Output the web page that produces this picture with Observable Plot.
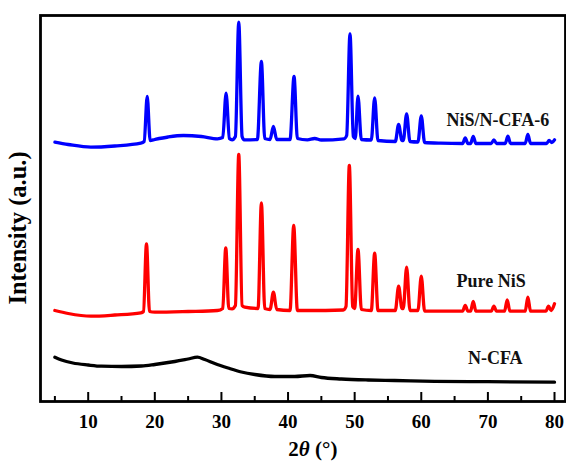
<!DOCTYPE html>
<html><head><meta charset="utf-8">
<script src="https://cdn.jsdelivr.net/npm/d3@7"></script>
<script src="https://cdn.jsdelivr.net/npm/@observablehq/plot@0.6"></script>
<style>body{margin:0;background:#fff} svg{display:block}</style>
</head><body><div id="chart"></div>
<script>
// 2θ (degrees) and intensity (a.u.)
const seriesNames = ["N-CFA", "Pure NiS", "NiS/N-CFA-6"];
const seriesColors = ["#000000", "#ff0000", "#0000ff"];

const ncfaX = [5, 6, 7.7, 10, 12, 15, 18, 20, 23, 25, 26.4, 27.5, 29, 31, 33, 35, 38, 41, 43.3, 45, 48, 52, 56, 62, 70, 80];
const ncfaY = [44.3, 41.5, 38.5, 36.5, 35.3, 35, 35.5, 37, 40, 42.5, 44.3, 42, 38, 33.5, 29.5, 27, 25, 25, 26, 24, 22.5, 21.5, 21, 20.2, 19.8, 19.3];

const nisX = [5, 7, 10.4, 14, 17.9, 18.3, 18.75, 19.2, 20, 25, 29.4, 30.2, 30.65, 31.1, 31.6, 32.1, 32.6, 33.1, 33.5,
  35.5, 36.0, 36.5, 37.3, 37.8, 38.3, 40.3, 40.85, 41.4, 43, 48.3, 48.7, 49.2, 49.7, 50.0, 50.5, 51.0, 52.5, 53.0, 53.5,
  56.1, 56.6, 57.1, 57.3, 57.8, 58.3, 59.5, 60.0, 60.5, 63, 66.2, 66.6, 67.0, 67.4, 67.8, 68.2, 70.5, 70.9, 71.3,
  72.5, 72.9, 73.3, 75.6, 76.0, 76.4, 78.7, 79.1, 79.5, 80];
const nisY = [91, 88, 85.3, 86.5, 88.7, 90, 157.7, 90, 89.3, 90, 91, 93, 153.7, 93, 92.7, 96, 247, 96, 94.3,
  93, 198.7, 93, 92, 109.3, 92, 91, 176, 91, 91, 91.5, 95, 236, 95, 93, 152, 92, 91, 148.3, 91,
  91, 115.3, 93, 93, 134.3, 91, 91, 125.3, 90.3, 90.3, 90.3, 96, 90.3, 90.3, 100, 90.3, 90.3, 95.3, 90.3,
  90.3, 101.7, 90.3, 90.3, 104.3, 90.3, 90.3, 95.3, 91, 97.7];

const compX = [5, 7, 10.4, 14, 17.9, 18.4, 18.86, 19.3, 20, 22, 24.3, 27, 29.4, 30.2, 30.7, 31.2, 31.6, 32.1, 32.6, 33.1, 33.4,
  35.4, 36.0, 36.5, 37.3, 37.8, 38.3, 40.3, 40.9, 41.4, 42.9, 44, 45, 48.4, 48.8, 49.3, 49.8, 50.1, 50.5, 51, 52.5, 53.0, 53.5,
  56.1, 56.6, 57.1, 57.3, 57.8, 58.3, 59.5, 60.0, 60.5, 62.9, 66.2, 66.6, 67.0, 67.4, 67.8, 68.2, 70.5, 70.9, 71.3,
  72.6, 73.0, 73.4, 75.6, 76.0, 76.4, 78.8, 79.2, 79.6, 80];
const compY = [259.3, 257, 254.3, 255.5, 258.3, 260, 305, 261, 262, 264.5, 266, 265, 262.7, 264, 308.3, 263, 261.7, 265, 379.3, 265, 261.7,
  262, 340, 263, 262, 275, 262, 262, 325, 263, 261.7, 263, 261.5, 262.7, 266, 367.7, 265, 263, 305.3, 262, 261.5, 303.7, 261,
  260, 277, 261, 261, 287.7, 260, 259.5, 285.7, 259, 258.3, 258, 263.7, 258, 258, 265, 258, 258, 261.7, 258,
  258, 265.3, 258, 258, 267, 258, 258, 261, 259, 261.7];

const majorTicks = [10, 20, 30, 40, 50, 60, 70, 80];
const minorTicks = [5, 15, 25, 35, 45, 55, 65, 75];

const rows = [];
[[ncfaX, ncfaY], [nisX, nisY], [compX, compY]].forEach(([xs, ys], i) =>
  xs.forEach((x, j) => rows.push({series: seriesNames[i], x, y: ys[j]})));

const labels = [
  {name: "NiS/N-CFA-6", x: 63.8, y: 281.5},
  {name: "Pure NiS", x: 65.3, y: 120},
  {name: "N-CFA", x: 67.0, y: 43}
];

const font = "'Liberation Serif', 'Times New Roman', serif";

const chart = Plot.plot({
  width: 566, height: 461,
  marginLeft: 40, marginRight: 1, marginTop: 15, marginBottom: 60,
  style: {fontFamily: font, fontSize: "19px", fontWeight: "bold", background: "#fff", overflow: "visible"},
  x: {domain: [2.84, 81.65], axis: null},
  y: {domain: [0, 386], axis: null},
  color: {domain: seriesNames, range: seriesColors},
  marks: [
    Plot.line(rows, {x: "x", y: "y", z: "series", stroke: "series", strokeWidth: 3.3, strokeLinejoin: "round", curve: "monotone-x"}),
    Plot.ruleX(majorTicks, {x: d => d, y1: 0, y2: 9, stroke: "black", strokeWidth: 2}),
    Plot.ruleX(minorTicks, {x: d => d, y1: 0, y2: 5, stroke: "black", strokeWidth: 2}),
    Plot.frame({stroke: "black", strokeWidth: 2.8}),
    Plot.axisX({ticks: majorTicks, tickSize: 0, tickPadding: 13, label: null, fontSize: 19, fontWeight: "bold"}),
    Plot.text(labels, {x: "x", y: "y", text: "name", textAnchor: "start", fontSize: 18, fontWeight: "bold", fill: "#111"})
  ]
});

const svg = d3.select(chart);
const xs = chart.scale("x");
const xl = svg.append("text")
  .attr("x", xs.apply(43.8)).attr("y", 456)
  .attr("text-anchor", "middle")
  .attr("font-family", font).attr("font-size", 21).attr("font-weight", "bold").attr("fill", "#000");
xl.append("tspan").text("2");
xl.append("tspan").attr("font-style", "italic").text("θ");
xl.append("tspan").text(" (°)");

svg.append("text")
  .attr("transform", "translate(26,228) rotate(-90)")
  .attr("text-anchor", "middle")
  .attr("font-family", font).attr("font-size", 24.5).attr("font-weight", "bold").attr("fill", "#000")
  .text("Intensity (a.u.)");

document.getElementById("chart").appendChild(chart);
</script>
</body></html>
